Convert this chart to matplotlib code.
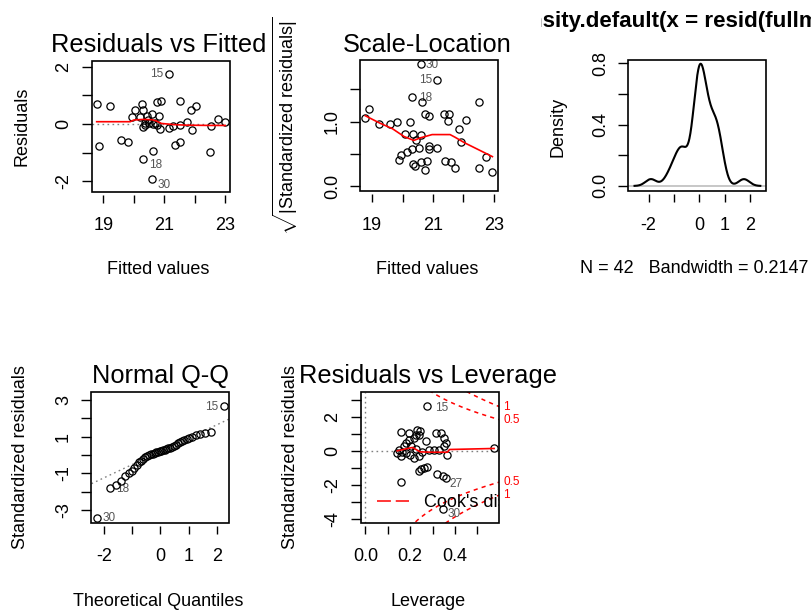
import numpy as np
import matplotlib.pyplot as plt
from matplotlib.patches import Rectangle
from matplotlib.transforms import Bbox
from statistics import NormalDist

plt.rcParams['font.family'] = ['Liberation Sans', 'DejaVu Sans']
plt.rcParams['mathtext.fontset'] = 'custom'
plt.rcParams['mathtext.rm'] = 'Liberation Sans'
plt.rcParams['mathtext.it'] = 'Liberation Sans:italic'
plt.rcParams['mathtext.bf'] = 'Liberation Sans:bold'
plt.rcParams['lines.scale_dashes'] = False

# --- residuals vs fitted ---
fitted = [18.78, 19.22, 18.87, 19.58, 19.82, 21.14, 20.31, 20.59, 20.64, 20.75,
          20.89, 21.52, 21.87, 22.05, 22.50, 22.54, 22.76, 23.00, 20.26, 20.04,
          20.29, 20.51, 20.64, 20.59, 20.37, 20.43, 19.93, 20.21, 20.84, 20.31,
          20.35, 20.86, 21.17, 21.50, 21.74, 21.90, 21.30, 21.35, 21.50, 20.68,
          20.75, 20.48]
resid = [0.70, 0.64, -0.78, -0.55, -0.62, 1.75, -1.23, -1.91, -0.94, 0.78,
         0.82, 0.82, 0.48, 0.64, -0.99, -0.06, 0.18, 0.06, 0.70, 0.50,
         0.50, 0.05, 0.00, 0.35, 0.02, 0.29, 0.23, 0.23, 0.27, -0.12,
         -0.05, -0.18, -0.15, -0.04, 0.08, -0.20, -0.06, -0.74, -0.62, 0.02,
         -0.04, 0.15]
rf_ids = {5: '15', 6: '18', 7: '30'}
rf_smooth_x = [18.78, 19.88, 20.0, 20.3, 20.6, 20.75, 20.9, 21.3, 21.7, 22.5, 23.0]
rf_smooth_y = [0.08, 0.08, 0.14, 0.16, 0.15, 0.10, 0.02, -0.02, -0.04, -0.05, -0.05]

# --- scale-location ---
sl_fitted = [20.59, 21.13, 20.32, 20.64, 22.50, 18.91, 18.78, 19.24, 19.59, 19.83,
             20.26, 20.75, 20.88, 21.35, 21.51, 21.49, 22.08, 21.85, 21.92, 22.73,
             22.95, 22.50, 20.08, 20.34, 20.59, 20.43, 20.88, 20.88, 21.13, 20.54,
             20.32, 20.16, 19.94, 19.89, 20.34, 20.41, 20.59, 20.81, 20.75, 21.40,
             21.59, 21.72]
sl_root = [1.89, 1.64, 1.38, 1.30, 1.30, 1.19, 1.06, 0.97, 0.97, 0.99,
           0.99, 1.11, 1.08, 1.11, 1.11, 1.01, 1.03, 0.89, 0.69, 0.46,
           0.23, 0.28, 0.81, 0.81, 0.79, 0.72, 0.63, 0.58, 0.60, 0.60,
           0.57, 0.53, 0.49, 0.41, 0.35, 0.32, 0.38, 0.39, 0.25, 0.40,
           0.38, 0.28]
sl_ids = {0: '30', 1: '15', 2: '18'}
sl_smooth_x = [18.78, 19.24, 19.67, 20.05, 20.37, 20.59, 20.97, 21.56, 21.72, 22.05, 22.48, 22.95]
sl_smooth_y = [1.09, 0.98, 0.89, 0.77, 0.71, 0.75, 0.80, 0.80, 0.76, 0.67, 0.57, 0.46]

# --- density of residuals ---
bandwidth = 0.2147

# --- normal Q-Q (sorted standardized residuals) ---
qq_std = [-3.42, -1.80, -1.62, -1.40, -1.15, -1.00, -0.88, -0.72, -0.52, -0.40,
          -0.30, -0.22, -0.12, -0.06, -0.01, 0.04, 0.08, 0.12, 0.15, 0.18,
          0.21, 0.24, 0.27, 0.30, 0.33, 0.37, 0.41, 0.45, 0.50, 0.55,
          0.64, 0.71, 0.76, 0.81, 0.87, 0.94, 1.00, 1.07, 1.13, 1.20,
          1.23, 2.67]
qq_ids = {41: '15', 0: '30', 1: '18'}

# --- residuals vs leverage ---
lev = [0.276, 0.157, 0.575, 0.346, 0.361, 0.321, 0.276, 0.261, 0.239, 0.250,
       0.157, 0.194, 0.231, 0.239, 0.216, 0.194, 0.179, 0.172, 0.150, 0.142,
       0.157, 0.179, 0.200, 0.216, 0.239, 0.254, 0.283, 0.306, 0.328, 0.351,
       0.366, 0.314, 0.336, 0.351, 0.358, 0.269, 0.345, 0.224, 0.246, 0.205,
       0.165, 0.228]
lev_std = [2.65, -1.83, 0.14, -1.48, -1.61, -1.38, -0.93, -0.99, -1.19, -1.08,
           1.13, 1.03, 1.23, 0.94, 0.74, 0.64, 0.45, 0.26, 0.06, -0.13,
           -0.33, -0.13, -0.23, -0.43, -0.33, -0.04, 0.06, 0.06, 0.06, 0.26,
           -0.23, 1.03, 1.03, 0.74, 0.45, 0.55, -3.42, 0.95, 1.15, 0.30,
           -0.05, 0.12]
lev_ids = {0: '15', 4: '27', 36: '30'}
lev_smooth_x = [0.142, 0.175, 0.21, 0.245, 0.30, 0.366, 0.376, 0.575]
lev_smooth_y = [0.0, 0.10, 0.20, -0.06, -0.08, -0.08, 0.08, 0.14]
n_coef = 10
cook_levels = [0.5, 1]

W, H = 812, 611
fig = plt.figure(figsize=(W / 100, H / 100), dpi=100)


def ftext(x, y, s, **kw):
    return fig.text(x / W, 1 - y / H, s, **kw)


def panel(left, top, w=138, h=131):
    ax = fig.add_axes([left / W, 1 - (top + h) / H, w / W, h / H])
    for s in ax.spines.values():
        s.set_visible(False)
    ax.spines['bottom'].set_position(('outward', 2.5))
    ax.add_patch(Rectangle((0, 0), 1, 1, transform=ax.transAxes, fill=False,
                           lw=1.2, ec='black', clip_on=False, zorder=6))
    ax.tick_params(axis='x', length=5.5, width=1, pad=10.5, labelsize=13)
    ax.tick_params(axis='y', length=7.5, width=1, pad=6.5, labelsize=13)
    return ax


def ticks(ax, xt, xl, yt, yl):
    ax.set_xticks(xt, xl)
    ax.set_yticks(yt, yl, rotation=90, va='center')


def circles(ax, x, y):
    ax.plot(x, y, 'o', mfc='none', mec='black', ms=5.2, mew=0.9, zorder=4)


def ids(ax, x, y, labels, offsets):
    for i, lab in labels.items():
        dx, dy = offsets[lab]
        ax.annotate(lab, (x[i], y[i]), xytext=(dx * 0.72, -dy * 0.72),
                    textcoords='offset points', ha='center', va='center',
                    fontsize=8.5, color='#555555', annotation_clip=False)


def title(x, y, s):
    ftext(x, y, s, ha='center', va='baseline', fontsize=18.3)


def xlab(x, y, s):
    ftext(x, y, s, ha='center', va='baseline', fontsize=13)


def ylab(x, y, s):
    ftext(x, y, s, rotation=90, rotation_mode='anchor', ha='center',
          va='baseline', fontsize=13)


dotted = (0, (1.2, 2.4))

# Residuals vs Fitted
ax1 = panel(91.8, 60.5)
ax1.axhline(0, color='gray', ls=dotted, lw=1)
circles(ax1, fitted, resid)
ax1.plot(rf_smooth_x, rf_smooth_y, color='red', lw=1.2, zorder=5)
ids(ax1, fitted, resid, rf_ids, {'15': (-12, 0), '18': (12, 6), '30': (12, 6)})
ax1.set_xlim(18.62, 23.15)
ax1.set_ylim(-2.36, 2.22)
ticks(ax1, [19, 20, 21, 22, 23], ['19', '', '21', '', '23'],
      [-2, -1, 0, 1, 2], ['-2', '', '0', '', '2'])
title(159, 52, 'Residuals vs Fitted')
xlab(158, 274, 'Fitted values')
ylab(26, 126, 'Residuals')

# Scale-Location
ax2 = panel(360.5, 60)
circles(ax2, sl_fitted, sl_root)
ax2.plot(sl_smooth_x, sl_smooth_y, color='red', lw=1.2, zorder=5)
ids(ax2, sl_fitted, sl_root, sl_ids, {'30': (12, 1), '15': (-11, 0), '18': (13, 1)})
ax2.set_xlim(18.62, 23.15)
ax2.set_ylim(-0.07, 1.95)
ticks(ax2, [19, 20, 21, 22, 23], ['19', '', '21', '', '23'],
      [0, 0.5, 1.0, 1.5], ['0.0', '', '1.0', ''])
title(427.5, 52, 'Scale-Location')
xlab(427, 274, 'Fitted values')
ylab(294, 126, r'$\sqrt{|\mathrm{Standardized\ residuals}|}$')

# Kernel density of the residuals
r = np.asarray(resid)
grid = np.linspace(r.min() - 3 * bandwidth, r.max() + 3 * bandwidth, 512)
dens = np.exp(-0.5 * ((grid[:, None] - r[None, :]) / bandwidth) ** 2).sum(axis=1)
dens /= len(r) * bandwidth * np.sqrt(2 * np.pi)
ax3 = panel(628.3, 60)
ax3.axhline(0, color='#bebebe', lw=1.2)
ax3.plot(grid, dens, color='black', lw=1.5)
ax3.set_xlim(-2.8, 2.63)
ax3.set_ylim(-0.033, 0.82)
ticks(ax3, [-2, -1, 0, 1, 2], ['-2', '', '0', '1', '2'],
      [0, 0.2, 0.4, 0.6, 0.8], ['0.0', '', '0.4', '', '0.8'])
main3 = ftext(691.5, 27, 'density.default(x = resid(fullmodel))', ha='center',
              va='baseline', fontsize=16.1, fontweight='bold')
# the title is clipped to this panel's own region
main3.set_clip_box(Bbox.from_extents(541, 0, W, H))
main3.set_clip_on(True)
xlab(694, 273, 'N = %d   Bandwidth = %.4g' % (len(r), bandwidth))
ylab(563, 126.5, 'Density')

# Normal Q-Q
nd = NormalDist()
n = len(qq_std)
theo = [nd.inv_cdf((i + 0.5) / n) for i in range(n)]
q1, q3 = np.percentile(qq_std, [25, 75])
t1, t3 = nd.inv_cdf(0.25), nd.inv_cdf(0.75)
slope = (q3 - q1) / (t3 - t1)
ax4 = panel(91.5, 391.5)
ax4.axline((0, q1 - slope * t1), slope=slope, color='gray', ls=dotted, lw=1)
circles(ax4, theo, qq_std)
ids(ax4, theo, qq_std, qq_ids, {'15': (-13, 1), '30': (13, 0), '18': (13, 1)})
ax4.set_xlim(-2.44, 2.44)
ax4.set_ylim(-3.66, 3.45)
ticks(ax4, [-2, -1, 0, 1, 2], ['-2', '', '0', '1', '2'],
      [-3, -2, -1, 0, 1, 2, 3], ['-3', '', '-1', '', '1', '', '3'])
title(160, 383.3, 'Normal Q-Q')
xlab(158, 606, 'Theoretical Quantiles')
ylab(25, 457, 'Standardized residuals')

# Residuals vs Leverage with Cook's distance contours
ax5 = panel(361, 391.5)
ax5.set_xlim(-0.02, 0.597)
ax5.set_ylim(-4.2, 3.48)
ax5.axhline(0, color='gray', ls=dotted, lw=1)
ax5.axvline(0, color='gray', ls=dotted, lw=1)
circles(ax5, lev, lev_std)
ax5.plot(lev_smooth_x, lev_smooth_y, color='red', lw=1.2, zorder=5)
ids(ax5, lev, lev_std, lev_ids, {'15': (14, 2), '27': (10, 6), '30': (11, 5)})
xmax = ax5.get_xlim()[1]
hh = np.linspace(0.005, xmax, 101)
for crit in cook_levels:
    cl = np.sqrt(crit * n_coef * (1 - hh) / hh)
    ax5.plot(hh, cl, color='red', ls=(0, (3, 3)), lw=1.1)
    ax5.plot(hh, -cl, color='red', ls=(0, (3, 3)), lw=1.1)
ymult = np.sqrt(n_coef * (1 - xmax) / xmax)
side = ax5.get_yaxis_transform()
for crit in cook_levels:
    for sgn in (1, -1):
        ax5.annotate('%g' % crit, (1, sgn * np.sqrt(crit) * ymult), xycoords=side,
                     xytext=(3, 0), textcoords='offset points', ha='left',
                     va='center', fontsize=8.5, color='red', annotation_clip=False)
ax5.plot([0.117, 0.346], [0.167, 0.167], transform=ax5.transAxes, color='red',
         ls=(0, (10, 3.5)), lw=1.1)
ax5.text(0.455, 0.152, "Cook's distance", transform=ax5.transAxes, ha='left',
         va='center', fontsize=13, clip_on=True)
ticks(ax5, [0, 0.1, 0.2, 0.3, 0.4, 0.5], ['0.0', '', '0.2', '', '0.4', ''],
      [-4, -3, -2, -1, 0, 1, 2, 3], ['-4', '', '-2', '', '0', '', '2', ''])
title(428, 383.3, 'Residuals vs Leverage')
xlab(428, 606, 'Leverage')
ylab(295, 457, 'Standardized residuals')

fig.savefig('out.png', dpi=100)
